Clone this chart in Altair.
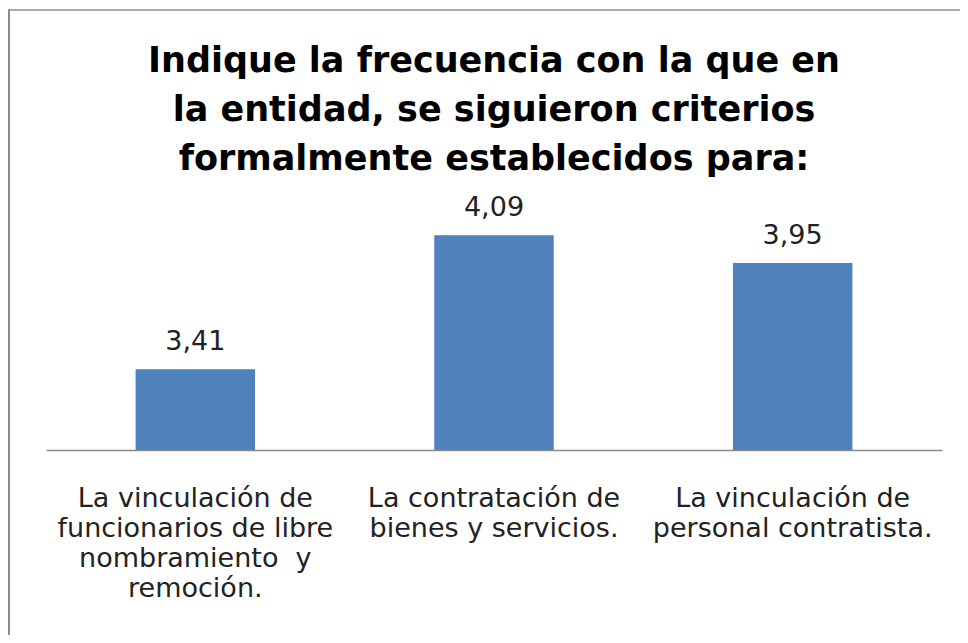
import altair as alt
import pandas as pd

categories = [
    "La vinculación de|funcionarios de libre|nombramiento\u00a0 y|remoción.",
    "La contratación de|bienes y servicios.",
    "La vinculación de|personal contratista.",
]
values = [3.41, 4.09, 3.95]
title_lines = [
    "Indique la frecuencia con la que en",
    "la entidad, se siguieron criterios",
    "formalmente establecidos para:",
]

df = pd.DataFrame({"cat": categories, "val": values})

base = alt.Chart(df).encode(
    x=alt.X(
        "cat:N",
        sort=None,
        title=None,
        scale=alt.Scale(paddingInner=0.6, paddingOuter=0.3),
        axis=alt.Axis(
            labelAngle=0,
            labelExpr="split(datum.label, '|')",
            labelFont="DejaVu Sans",
            labelFontSize=27,
            labelLineHeight=30,
            labelColor="#222222",
            labelPadding=35,
            labelBaseline="top",
            labelLimit=400,
            ticks=False,
            domainColor="#8a8a8a",
            domainWidth=1.5,
            grid=False,
        ),
    ),
    y=alt.Y("val:Q", title=None, axis=None, scale=alt.Scale(domain=[3, 4.3], zero=False, nice=False)),
)

bars = base.mark_bar(color="#4F81BD", clip=True)

labels = base.transform_calculate(
    lbl="replace(format(datum.val, '.2f'), '.', ',')"
).mark_text(
    font="DejaVu Sans", fontSize=27, color="#222222", baseline="alphabetic", dy=-19
).encode(text="lbl:N")

title_mark = alt.Chart(df.head(1)).mark_text(
    text=title_lines,
    font="DejaVu Sans",
    fontSize=35,
    fontWeight="bold",
    color="#000000",
    lineHeight=49,
    align="center",
    baseline="alphabetic",
).encode(x=alt.value(448), y=alt.value(-122))

border_left = alt.Chart(df.head(1)).mark_rule(color="#8c8c8c", strokeWidth=2).encode(
    x=alt.value(-37), y=alt.value(-184), y2=alt.value(441)
)
border_top = alt.Chart(df.head(1)).mark_rule(color="#8c8c8c", strokeWidth=1.5).encode(
    x=alt.value(-38), x2=alt.value(914), y=alt.value(-184)
)

chart = alt.layer(bars, labels, title_mark, border_left, border_top).properties(
    width=896,
    height=256,
    autosize=alt.AutoSizeParams(type="none"),
    padding={"left": 38, "top": 186, "right": 18, "bottom": 185},
).configure_view(stroke=None)

chart.save("out.html", embed_options={"renderer": "svg", "actions": False})
